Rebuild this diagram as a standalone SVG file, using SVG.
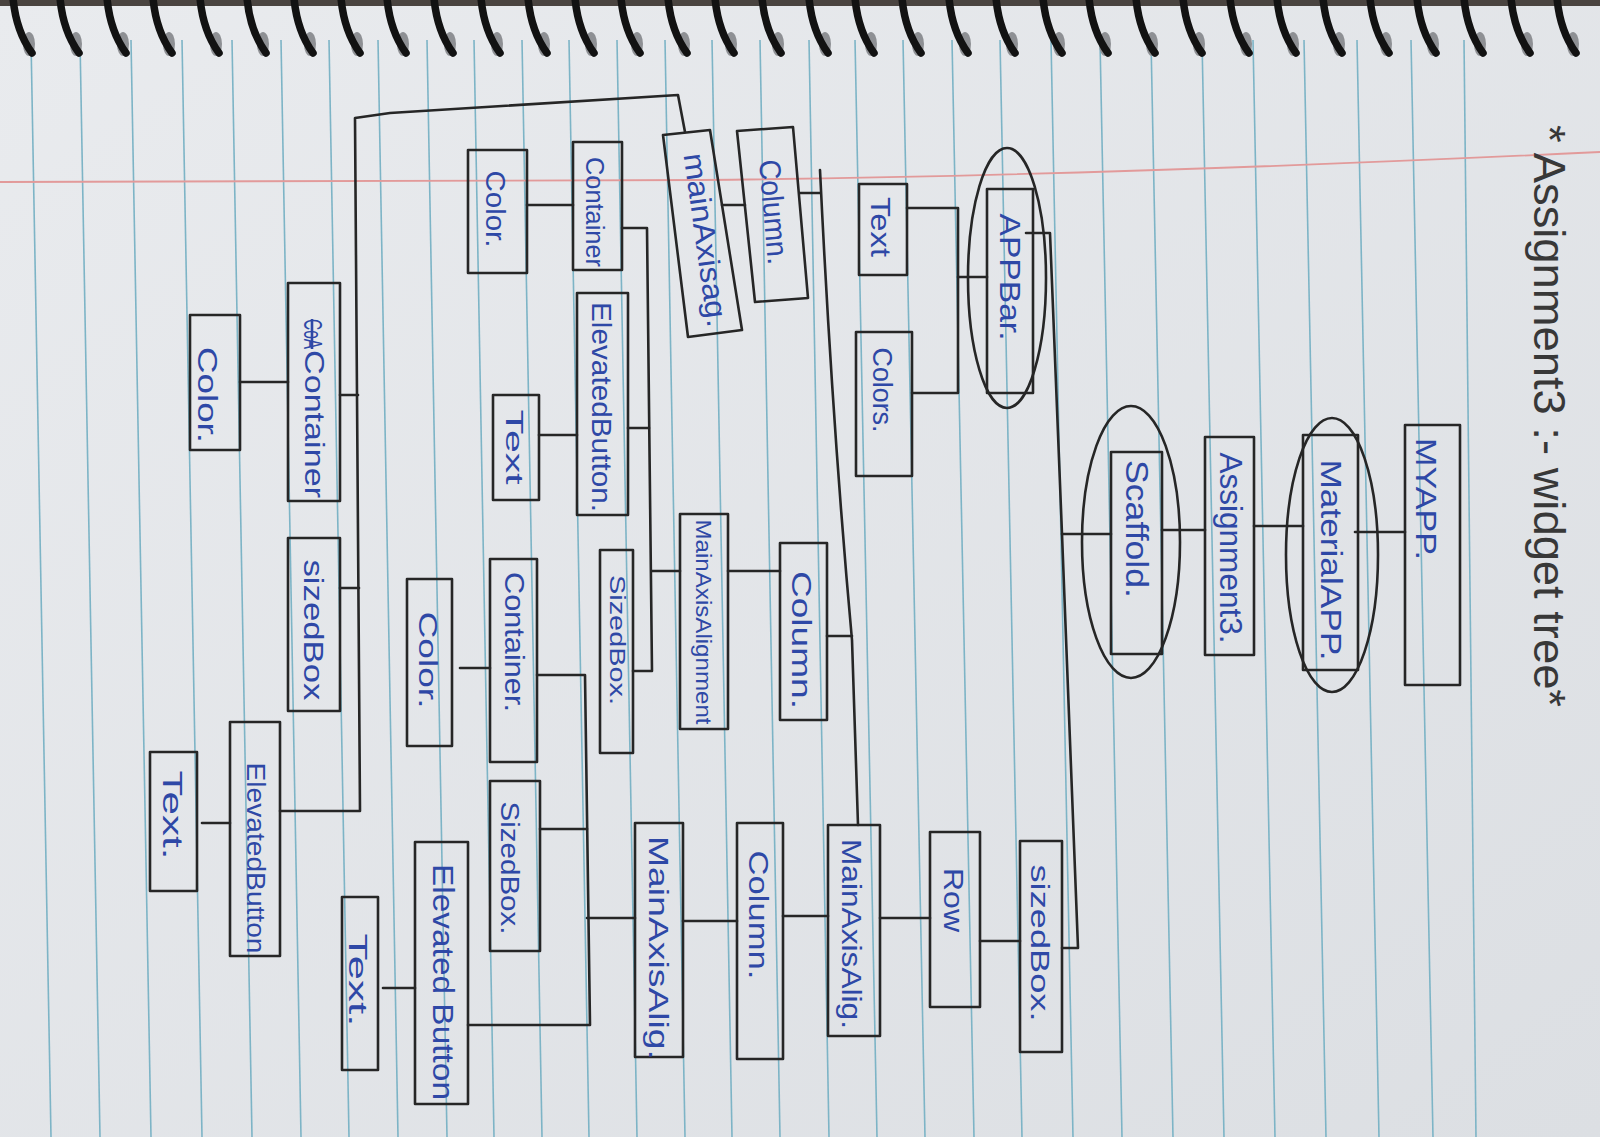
<svg xmlns="http://www.w3.org/2000/svg" xmlns:xlink="http://www.w3.org/1999/xlink" width="1600" height="1137" viewBox="0 0 1600 1137">
<style>
.box{fill:none;stroke:#262626;stroke-width:2.6;stroke-linejoin:round}
.ell{fill:none;stroke:#262626;stroke-width:2.6}
.con{fill:none;stroke:#262626;stroke-width:2.6;stroke-linecap:round;stroke-linejoin:round}
.lbl{font-family:"Liberation Sans","DejaVu Sans",sans-serif;fill:#2e48a6;text-anchor:middle;dominant-baseline:central}
.title{font-family:"Liberation Sans","DejaVu Sans",sans-serif;fill:#383838;text-anchor:middle;dominant-baseline:central}
.rule{stroke:#7db4c6;stroke-width:1.6}
</style>
<defs>
<linearGradient id="paper" x1="0" y1="0" x2="1" y2="1">
<stop offset="0" stop-color="#e9ebee"/>
<stop offset="1" stop-color="#dcdfe3"/>
</linearGradient>
<g id="coil">
<ellipse cx="14" cy="44" rx="6" ry="12" fill="#8e9094"/>
<path d="M-2,-2 C0,20 6,38 17,53" fill="none" stroke="#121212" stroke-width="7.5" stroke-linecap="round"/>
</g>
</defs>
<rect width="1600" height="1137" fill="url(#paper)"/>
<g id="rules">
<line class="rule" x1="31" y1="40" x2="51" y2="1137"/>
<line class="rule" x1="80" y1="40" x2="100" y2="1137"/>
<line class="rule" x1="131" y1="40" x2="151" y2="1137"/>
<line class="rule" x1="182" y1="40" x2="202" y2="1137"/>
<line class="rule" x1="232" y1="40" x2="252" y2="1137"/>
<line class="rule" x1="281" y1="40" x2="301" y2="1137"/>
<line class="rule" x1="329" y1="40" x2="349" y2="1137"/>
<line class="rule" x1="378" y1="40" x2="398" y2="1137"/>
<line class="rule" x1="427" y1="40" x2="447" y2="1137"/>
<line class="rule" x1="474" y1="40" x2="494" y2="1137"/>
<line class="rule" x1="522" y1="40" x2="542" y2="1137"/>
<line class="rule" x1="569" y1="40" x2="589" y2="1137"/>
<line class="rule" x1="617" y1="40" x2="637" y2="1137"/>
<line class="rule" x1="665" y1="40" x2="685" y2="1137"/>
<line class="rule" x1="712" y1="40" x2="732" y2="1137"/>
<line class="rule" x1="760" y1="40" x2="780" y2="1137"/>
<line class="rule" x1="809" y1="40" x2="829" y2="1137"/>
<line class="rule" x1="855" y1="40" x2="877" y2="1137"/>
<line class="rule" x1="903" y1="40" x2="925" y2="1137"/>
<line class="rule" x1="952" y1="40" x2="974" y2="1137"/>
<line class="rule" x1="1000" y1="40" x2="1022" y2="1137"/>
<line class="rule" x1="1051" y1="40" x2="1073" y2="1137"/>
<line class="rule" x1="1100" y1="40" x2="1122" y2="1137"/>
<line class="rule" x1="1151" y1="40" x2="1173" y2="1137"/>
<line class="rule" x1="1202" y1="40" x2="1224" y2="1137"/>
<line class="rule" x1="1253" y1="40" x2="1275" y2="1137"/>
<line class="rule" x1="1304" y1="40" x2="1326" y2="1137"/>
<line class="rule" x1="1357" y1="40" x2="1379" y2="1137"/>
<line class="rule" x1="1411" y1="40" x2="1433" y2="1137"/>
<line class="rule" x1="1464" y1="40" x2="1476" y2="1137"/>
</g>
<path id="margin" d="M0,182 L700,180 Q1100,176 1600,152" fill="none" stroke="#e29a9a" stroke-width="1.8"/>
<g id="spiral">
<rect x="0" y="0" width="1600" height="6" fill="#4a4440"/>
<use xlink:href="#coil" x="15"/><use xlink:href="#coil" x="62"/><use xlink:href="#coil" x="109"/><use xlink:href="#coil" x="155"/>
<use xlink:href="#coil" x="202"/><use xlink:href="#coil" x="249"/><use xlink:href="#coil" x="296"/><use xlink:href="#coil" x="343"/>
<use xlink:href="#coil" x="389"/><use xlink:href="#coil" x="436"/><use xlink:href="#coil" x="483"/><use xlink:href="#coil" x="530"/>
<use xlink:href="#coil" x="577"/><use xlink:href="#coil" x="623"/><use xlink:href="#coil" x="670"/><use xlink:href="#coil" x="717"/>
<use xlink:href="#coil" x="764"/><use xlink:href="#coil" x="811"/><use xlink:href="#coil" x="857"/><use xlink:href="#coil" x="904"/>
<use xlink:href="#coil" x="951"/><use xlink:href="#coil" x="998"/><use xlink:href="#coil" x="1045"/><use xlink:href="#coil" x="1091"/>
<use xlink:href="#coil" x="1138"/><use xlink:href="#coil" x="1185"/><use xlink:href="#coil" x="1232"/><use xlink:href="#coil" x="1279"/>
<use xlink:href="#coil" x="1325"/><use xlink:href="#coil" x="1372"/><use xlink:href="#coil" x="1419"/><use xlink:href="#coil" x="1466"/>
<use xlink:href="#coil" x="1513"/><use xlink:href="#coil" x="1559"/>
</g>
<text id="title" class="title" font-size="44" textLength="582" lengthAdjust="spacingAndGlyphs" transform="translate(1549,416) rotate(90)">* Assignment3 :- widget tree*</text>
<g id="connectors">
<path class="con" d="M1355,532 L1405,532"/>
<path class="con" d="M1254,526 L1303,526"/>
<path class="con" d="M1162,530 L1205,530"/>
<path class="con" d="M1062,534 L1111,534"/>
<path class="con" d="M1026,233 L1050,233 L1062,534 L1078,948 L1062,948"/>
<path class="con" d="M987,277 L958,277"/>
<path class="con" d="M907,208 L958,208 L958,393 L912,393"/>
<path class="con" d="M980,941 L1020,941"/>
<path class="con" d="M880,918 L930,918"/>
<path class="con" d="M783,916 L828,916"/>
<path class="con" d="M683,921 L737,921"/>
<path class="con" d="M587,918 L635,918"/>
<path class="con" d="M537,675 L585,675 L590,1025 L468,1025"/>
<path class="con" d="M540,829 L587,829"/>
<path class="con" d="M460,668 L490,668"/>
<path class="con" d="M383,988 L415,988"/>
<path class="con" d="M800,193 L820,193"/>
<path class="con" d="M820,170 Q832,420 852,640 L858,825"/>
<path class="con" d="M827,636 L852,636"/>
<path class="con" d="M728,571 L780,571"/>
<path class="con" d="M652,571 L680,571"/>
<path class="con" d="M622,228 L647,228 L652,671 L633,671"/>
<path class="con" d="M628,428 L649,428"/>
<path class="con" d="M527,205 L573,205"/>
<path class="con" d="M539,435 L577,435"/>
<path class="con" d="M722,205 L745,205"/>
<path class="con" d="M685,132 L678,95 L390,113 L355,118 L360,811 L280,811"/>
<path class="con" d="M340,395 L358,395"/>
<path class="con" d="M340,588 L359,588"/>
<path class="con" d="M240,382 L288,382"/>
<path class="con" d="M202,823 L230,823"/>
</g>
<g id="n-myapp"><rect class="box" x="1405" y="425" width="55" height="260"/><text class="lbl" font-size="30" textLength="122" lengthAdjust="spacingAndGlyphs" transform="translate(1426,499) rotate(90)">MYAPP.</text></g>
<g id="n-materialapp"><ellipse class="ell" cx="1332" cy="555" rx="46" ry="137"/><rect class="box" x="1303" y="435" width="55" height="235"/><text class="lbl" font-size="30" textLength="201" lengthAdjust="spacingAndGlyphs" transform="translate(1331,560) rotate(90)">MaterialAPP.</text></g>
<g id="n-assignment3"><rect class="box" x="1205" y="437" width="49" height="218"/><text class="lbl" font-size="32" textLength="191" lengthAdjust="spacingAndGlyphs" transform="translate(1231,548) rotate(90)">Assignment3.</text></g>
<g id="n-scaffold"><ellipse class="ell" cx="1131" cy="542" rx="49" ry="136"/><rect class="box" x="1111" y="452" width="51" height="202"/><text class="lbl" font-size="32" textLength="138" lengthAdjust="spacingAndGlyphs" transform="translate(1137,529) rotate(90)">Scaffold.</text></g>
<g id="n-appbar"><ellipse class="ell" cx="1007" cy="278" rx="39" ry="130"/><rect class="box" x="987" y="189" width="46" height="204"/><text class="lbl" font-size="30" textLength="127" lengthAdjust="spacingAndGlyphs" transform="translate(1010,277) rotate(90)">APPBar.</text></g>
<g id="n-text-appbar"><rect class="box" x="859" y="184" width="48" height="91"/><text class="lbl" font-size="28" textLength="60" lengthAdjust="spacingAndGlyphs" transform="translate(880,227) rotate(90)">Text</text></g>
<g id="n-colors"><rect class="box" x="856" y="332" width="56" height="144"/><text class="lbl" font-size="28" textLength="85" lengthAdjust="spacingAndGlyphs" transform="translate(882,390) rotate(90)">Colors.</text></g>
<g id="n-column-top"><polygon class="box" points="737,131 793,127 808,298 755,302"/><text class="lbl" font-size="30" textLength="105" lengthAdjust="spacingAndGlyphs" transform="translate(774,212) rotate(85)">Column.</text></g>
<g id="n-mainaxis-top"><polygon class="box" points="663,135 710,130 742,330 688,337"/><text class="lbl" font-size="30" textLength="175" lengthAdjust="spacingAndGlyphs" transform="translate(706,240) rotate(82)">mainAxisag.</text></g>
<g id="n-container-top"><rect class="box" x="573" y="142" width="49" height="128"/><text class="lbl" font-size="26" textLength="110" lengthAdjust="spacingAndGlyphs" transform="translate(595,212) rotate(90)">Container</text></g>
<g id="n-elevated-top"><rect class="box" x="577" y="293" width="51" height="222"/><text class="lbl" font-size="28" textLength="210" lengthAdjust="spacingAndGlyphs" transform="translate(601,407) rotate(90)">ElevatedButton.</text></g>
<g id="n-color-topleft"><rect class="box" x="468" y="150" width="59" height="123"/><text class="lbl" font-size="28" textLength="77" lengthAdjust="spacingAndGlyphs" transform="translate(495,209) rotate(90)">Color.</text></g>
<g id="n-text-mid"><rect class="box" x="493" y="395" width="46" height="105"/><text class="lbl" font-size="24" textLength="75" lengthAdjust="spacingAndGlyphs" transform="translate(514,447) rotate(90)">Text</text></g>
<g id="n-container-a"><rect class="box" x="288" y="283" width="52" height="218"/><text class="lbl" font-size="26" textLength="30" lengthAdjust="spacingAndGlyphs" style="text-decoration:line-through" transform="translate(313,334) rotate(90)">CoA</text><text class="lbl" font-size="28" textLength="148" lengthAdjust="spacingAndGlyphs" transform="translate(314,424) rotate(90)">Container</text></g>
<g id="n-color-farleft"><rect class="box" x="190" y="315" width="50" height="135"/><text class="lbl" font-size="28" textLength="96" lengthAdjust="spacingAndGlyphs" transform="translate(207,395) rotate(90)">Color.</text></g>
<g id="n-sizedbox-left"><rect class="box" x="288" y="538" width="52" height="173"/><text class="lbl" font-size="28" textLength="141" lengthAdjust="spacingAndGlyphs" transform="translate(313,630) rotate(90)">sizedBox</text></g>
<g id="n-elevated-left"><rect class="box" x="230" y="722" width="50" height="234"/><text class="lbl" font-size="26" textLength="191" lengthAdjust="spacingAndGlyphs" transform="translate(256,858) rotate(90)">ElevatedButton</text></g>
<g id="n-text-farleft"><rect class="box" x="150" y="752" width="47" height="139"/><text class="lbl" font-size="28" textLength="89" lengthAdjust="spacingAndGlyphs" transform="translate(172,815) rotate(90)">Text.</text></g>
<g id="n-text-bottom"><rect class="box" x="342" y="897" width="36" height="173"/><text class="lbl" font-size="26" textLength="93" lengthAdjust="spacingAndGlyphs" transform="translate(358,980) rotate(90)">Text.</text></g>
<g id="n-mainaxis-mid"><rect class="box" x="680" y="514" width="48" height="215"/><text class="lbl" font-size="22" textLength="205" lengthAdjust="spacingAndGlyphs" transform="translate(703,622) rotate(90)">MainAxisAlignment</text></g>
<g id="n-column-mid"><rect class="box" x="780" y="543" width="47" height="177"/><text class="lbl" font-size="28" textLength="138" lengthAdjust="spacingAndGlyphs" transform="translate(801,640) rotate(90)">Column.</text></g>
<g id="n-sizedbox-mid"><rect class="box" x="600" y="550" width="33" height="203"/><text class="lbl" font-size="22" textLength="130" lengthAdjust="spacingAndGlyphs" transform="translate(617,640) rotate(90)">SizedBox.</text></g>
<g id="n-mainaxis-lower"><rect class="box" x="635" y="823" width="48" height="234"/><text class="lbl" font-size="28" textLength="224" lengthAdjust="spacingAndGlyphs" transform="translate(658,948) rotate(90)">MainAxisAlig.</text></g>
<g id="n-column-lower"><rect class="box" x="737" y="823" width="46" height="236"/><text class="lbl" font-size="28" textLength="129" lengthAdjust="spacingAndGlyphs" transform="translate(758,915) rotate(90)">Column.</text></g>
<g id="n-mainaxis-rl"><rect class="box" x="828" y="825" width="52" height="211"/><text class="lbl" font-size="28" textLength="190" lengthAdjust="spacingAndGlyphs" transform="translate(851,934) rotate(90)">MainAxisAlig.</text></g>
<g id="n-row"><rect class="box" x="930" y="832" width="50" height="175"/><text class="lbl" font-size="28" textLength="64" lengthAdjust="spacingAndGlyphs" transform="translate(953,900) rotate(90)">Row</text></g>
<g id="n-sizedbox-right"><rect class="box" x="1020" y="841" width="42" height="211"/><text class="lbl" font-size="26" textLength="157" lengthAdjust="spacingAndGlyphs" transform="translate(1040,943) rotate(90)">sizedBox.</text></g>
<g id="n-container-mid"><rect class="box" x="490" y="559" width="47" height="203"/><text class="lbl" font-size="28" textLength="140" lengthAdjust="spacingAndGlyphs" transform="translate(514,642) rotate(90)">Container.</text></g>
<g id="n-color-mid"><rect class="box" x="407" y="579" width="45" height="167"/><text class="lbl" font-size="26" textLength="97" lengthAdjust="spacingAndGlyphs" transform="translate(428,660) rotate(90)">Color.</text></g>
<g id="n-sizedbox-lowmid"><rect class="box" x="490" y="781" width="50" height="170"/><text class="lbl" font-size="26" textLength="133" lengthAdjust="spacingAndGlyphs" transform="translate(510,868) rotate(90)">SizedBox.</text></g>
<g id="n-elevated-bottom"><rect class="box" x="415" y="842" width="53" height="262"/><text class="lbl" font-size="30" textLength="236" lengthAdjust="spacingAndGlyphs" transform="translate(443,982) rotate(90)">Elevated Button</text></g>
</svg>
